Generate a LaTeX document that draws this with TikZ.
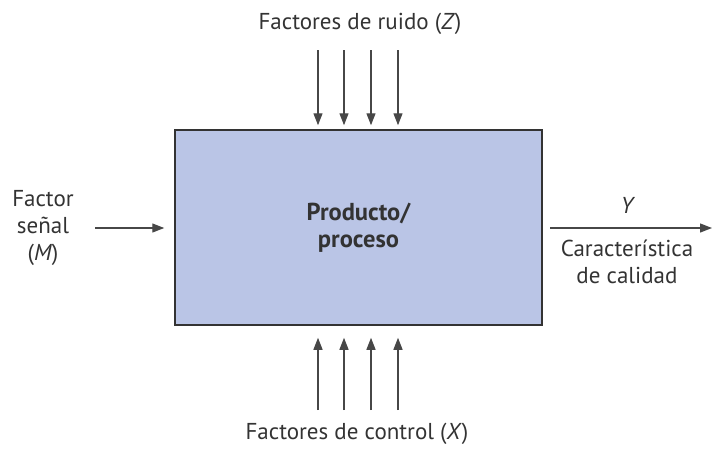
\documentclass[tikz,border=0pt]{standalone}
\usepackage{fontspec}
\setmainfont{PT Sans}
\usetikzlibrary{arrows.meta}
\definecolor{boxfill}{HTML}{BAC5E6}
\definecolor{ink}{HTML}{333333}
\tikzset{
	flecha/.style={draw=ink!90,line width=1.3pt,-{Triangle[length=12pt,width=9pt]}},
	txt/.style={text=ink,font=\fontsize{23}{27}\selectfont,align=center,inner sep=0pt}
}
\begin{document}
\begin{tikzpicture}[x=1pt,y=-1pt]
		\useasboundingbox (0,0) rectangle (712,448);

		% bloque central
		\node[draw=ink,line width=1.5pt,fill=boxfill,minimum width=367pt,minimum height=195pt,
			txt,font=\fontsize{24.5}{27}\selectfont\bfseries] (proc) at (358.5,227.5) {Producto/\\proceso};

		% ruido arriba, control abajo
		\node[txt] (ruido) at (360,24) {Factores de ruido (\textit{Z})};
		\node[txt] (control) at (357,434) {Factores de control (\textit{X})};
		\foreach \i/\x in {1/318,2/344,3/371,4/398}{
			\coordinate (z\i) at (\x,50);
			\coordinate (x\i) at (\x,410);
			\draw[flecha,shorten >=4pt] (z\i) -- (z\i |- proc.north);
			\draw[flecha,shorten >=12pt] (x\i) -- (x\i |- proc.south);
		}

		% senal a la izquierda
		\node[txt] (senal) at (43,228) {Factor\\señal\\(\textit{M})};
		\coordinate (m) at (95,228);
		\draw[flecha,shorten >=10pt] (m) -- (m -| proc.west);

		% respuesta a la derecha
		\coordinate (y0) at (550,228);
		\coordinate (y1) at (712,228);
		\draw[flecha] (y0) -- (y1);
		\node[txt] (y) at (628,205) {\textit{Y}};
		\node[txt] (carac) at (627,262) {Característica\\de calidad};
	\end{tikzpicture}
\end{document}
